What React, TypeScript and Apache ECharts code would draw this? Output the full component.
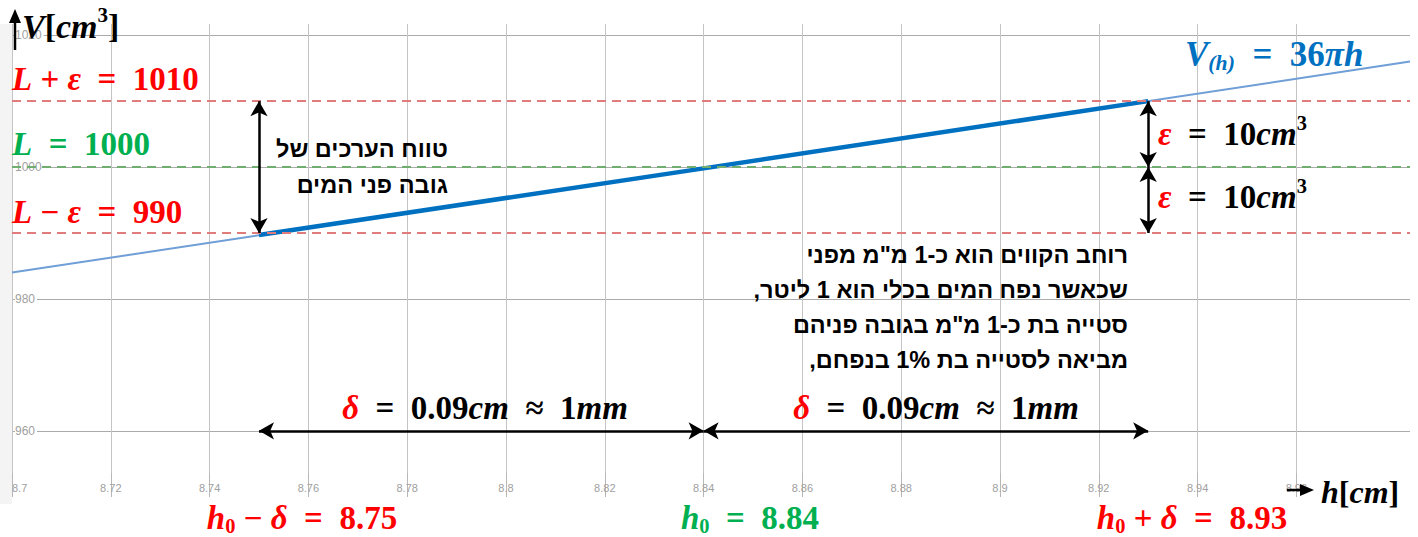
import React, { useEffect, useRef } from "react";
import * as echarts from "echarts";

// ---- data ----
const xTicks = [8.7, 8.72, 8.74, 8.76, 8.78, 8.8, 8.82, 8.84, 8.86, 8.88, 8.9, 8.92, 8.94, 8.96];
const yTicks = [960, 980, 1000, 1020];
const hFull = [8.7, 8.983];
const vFull = [984.0, 1016.0];
const hSeg = [8.75, 8.84, 8.93];
const vSeg = [989.7, 999.8, 1010.0];
const hLevels = [8.75, 8.84, 8.93]; // h0 - delta, h0, h0 + delta
const vLevels = [990, 1000, 1010]; // L - eps, L, L + eps
const arrowV = 960; // level of the horizontal delta arrows

const X_MIN = 8.7, X_MAX = 8.983, Y_MIN = 953.6, Y_MAX = 1021.7, Y_LOW = 949.9;

const RED = "#ff0000", GREEN = "#00b050", BLUE = "#0070c0";
const DASH_RED = "#e07c7c", DASH_GREEN = "#6fae6f";
const serif = '"Liberation Serif", "DejaVu Serif", serif';
const sans = '"Liberation Sans", "DejaVu Sans", Arial, sans-serif';
const EQ = "\u2002=\u2002";

function styles(size: number, color: string, lhMul: number) {
  const lh = size * lhMul;
  const small = size * 0.62;
  const slh = size * 0.5;
  return {
    i: { fontFamily: serif, fontWeight: "bold", fontStyle: "italic", fontSize: size, fill: color, lineHeight: lh },
    n: { fontFamily: serif, fontWeight: "bold", fontSize: size, fill: color, lineHeight: lh },
    sup: { fontFamily: serif, fontWeight: "bold", fontSize: small, fill: color, verticalAlign: "top", lineHeight: slh },
    sub: { fontFamily: serif, fontWeight: "bold", fontSize: small, fill: color, verticalAlign: "bottom", lineHeight: slh },
    subi: { fontFamily: serif, fontWeight: "bold", fontStyle: "italic", fontSize: small, fill: color, verticalAlign: "bottom", lineHeight: slh },
    r: { fontFamily: serif, fontWeight: "bold", fontStyle: "italic", fontSize: size, fill: RED, lineHeight: lh },
  };
}

function mtext(x: number, y: number, text: string, size: number, color: string, align = "left", lhMul = 1.0) {
  return {
    type: "text",
    x,
    y,
    z: 100,
    style: {
      text,
      rich: styles(size, color, lhMul),
      align,
      verticalAlign: "middle",
      fill: color,
      fontFamily: serif,
      fontWeight: "bold",
      fontSize: size,
    },
  };
}

function hebrew(x: number, y: number, lines: string[], size: number, lh: number) {
  return lines.map((t, k) => ({
    type: "text",
    x,
    y: y + k * lh,
    z: 100,
    style: {
      text: "\u200F" + t + "\u200F",
      align: "right",
      verticalAlign: "middle",
      fill: "#000",
      fontFamily: sans,
      fontWeight: "bold",
      fontSize: size,
    },
  }));
}

export default function App() {
  const ref = useRef<HTMLDivElement>(null);
  useEffect(() => {
    if (!ref.current) return;
    const chart = echarts.init(ref.current, undefined, { renderer: "svg" });
    const dashRed = { color: DASH_RED, type: [9, 6], width: 2 };
    const dashGreen = { color: DASH_GREEN, type: [9, 6], width: 2 };
    const levelStyles = [dashRed, dashGreen, dashRed];
    const arrowLine = { color: "#000", type: "solid", width: 2.5 };

    const dashedData: any[] = [];
    vLevels.forEach((v, k) => dashedData.push({ yAxis: v, lineStyle: levelStyles[k] }));
    hLevels.forEach((h, k) =>
      dashedData.push([
        { coord: [h, Y_MAX], lineStyle: levelStyles[k] },
        { coord: [h, Y_LOW] },
      ])
    );

    const arrowData: any[] = [
      [{ coord: [hLevels[0], vLevels[2]] }, { coord: [hLevels[0], vLevels[0]] }],
      [{ coord: [hLevels[2], vLevels[2]] }, { coord: [hLevels[2], vLevels[1]] }],
      [{ coord: [hLevels[2], vLevels[1]] }, { coord: [hLevels[2], vLevels[0]] }],
      [{ coord: [hLevels[0], arrowV] }, { coord: [hLevels[1], arrowV] }],
      [{ coord: [hLevels[1], arrowV] }, { coord: [hLevels[2], arrowV] }],
    ];

    chart.setOption({
      animation: false,
      backgroundColor: "#fff",
      grid: { left: 12, right: 8, top: 24, bottom: 64, containLabel: false },
      xAxis: {
        type: "value",
        min: X_MIN,
        max: X_MAX,
        interval: 0.02,
        axisLine: { show: false },
        axisTick: { show: true, customValues: xTicks, length: 24, lineStyle: { color: "#b8b8b8" } },
        axisLabel: {
          customValues: xTicks,
          color: "#a0a0a0",
          fontSize: 11,
          fontFamily: sans,
          margin: 9,
          alignMinLabel: "left",
          formatter: (v: number) => String(+v.toFixed(2)),
        },
        splitLine: { show: true, lineStyle: { color: "#c4c4c4", width: 1 } },
      },
      yAxis: {
        type: "value",
        min: Y_MIN,
        max: Y_MAX,
        axisLine: { show: false },
        axisTick: { show: false, customValues: yTicks },
        axisLabel: {
          customValues: yTicks,
          inside: true,
          margin: 3,
          color: "#a0a0a0",
          fontSize: 12,
          fontFamily: sans,
          backgroundColor: "#fff",
          padding: [1, 2, 1, 0],
          formatter: (v: number) => String(Math.round(v)),
        },
        splitLine: { show: true, lineStyle: { color: "#ababab", width: 1 } },
      },
      series: [
        {
          type: "line",
          data: [],
          silent: true,
          z: 2,
          markLine: {
            silent: true,
            symbol: ["none", "none"],
            label: { show: false },
            data: dashedData,
          },
        },
        {
          type: "line",
          z: 3,
          data: hFull.map((h, k) => [h, vFull[k]]),
          showSymbol: false,
          lineStyle: { color: "#6f9fd6", width: 2 },
        },
        {
          type: "line",
          z: 4,
          data: hSeg.map((h, k) => [h, vSeg[k]]),
          showSymbol: false,
          lineStyle: { color: BLUE, width: 4.5 },
        },
        {
          type: "line",
          data: [],
          z: 5,
          markLine: {
            silent: true,
            symbol: ["arrow", "arrow"],
            symbolSize: [13, 15],
            label: { show: false },
            lineStyle: arrowLine,
            itemStyle: { color: "#000" },
            data: arrowData,
          },
        },
      ],
      graphic: [
        { type: "rect", shape: { x: 0, y: 24, width: 12, height: 480 }, style: { fill: "#f4f4f4" }, z: 1 },
        // axis arrows
        { type: "line", shape: { x1: 15, y1: 50, x2: 15, y2: 20 }, style: { stroke: "#000", lineWidth: 2.5 }, z: 100 },
        { type: "polygon", shape: { points: [[15, 9], [9, 23], [21, 23]] }, style: { fill: "#000" }, z: 100 },
        { type: "line", shape: { x1: 1287, y1: 490, x2: 1302, y2: 490 }, style: { stroke: "#000", lineWidth: 2.5 }, z: 100 },
        { type: "polygon", shape: { points: [[1314, 490], [1300, 484], [1300, 496]] }, style: { fill: "#000" }, z: 100 },
        // axis titles
        mtext(22, 26, "{i|V}{n|[}{i|cm}{sup|3}{n|]}", 34, "#000", "left", 1.25),
        mtext(1321, 492, "{i|h}{n|[}{i|cm}{n|]}", 32, "#000"),
        // level labels
        mtext(12, 79, `{i|L}{n| + }{i|ε}{n|${EQ}1010}`, 33, RED),
        mtext(12, 144, `{i|L}{n|${EQ}1000}`, 33, GREEN),
        mtext(12, 212, `{i|L}{n| − }{i|ε}{n|${EQ}990}`, 33, RED),
        mtext(1185, 54, `{i|V}{subi|(h)}{i|${EQ}}{n|36}{i|πh}`, 35, BLUE, "left", 1.15),
        mtext(1158, 134, `{r|ε}{n|${EQ}10}{i|cm}{sup|3}`, 33, "#000", "left", 1.25),
        mtext(1158, 197, `{r|ε}{n|${EQ}10}{i|cm}{sup|3}`, 33, "#000", "left", 1.25),
        mtext(485, 408, `{r|δ}{n|${EQ}0.09}{i|cm}{n|\u2002≈\u20021}{i|mm}`, 33, "#000", "center"),
        mtext(936, 408, `{r|δ}{n|${EQ}0.09}{i|cm}{n|\u2002≈\u20021}{i|mm}`, 33, "#000", "center"),
        mtext(302, 518, `{i|h}{sub|0}{n| − }{i|δ}{n|${EQ}8.75}`, 33, RED, "center", 1.1),
        mtext(750, 518, `{i|h}{sub|0}{n|${EQ}8.84}`, 33, GREEN, "center", 1.1),
        mtext(1192, 518, `{i|h}{sub|0}{n| + }{i|δ}{n|${EQ}8.93}`, 33, RED, "center", 1.1),
        ...hebrew(448, 149, ["טווח הערכים של", "גובה פני המים"], 23.5, 36),
        ...hebrew(1128, 255, [
          "רוחב הקווים הוא כ-1 מ\"מ מפני",
          "שכאשר נפח המים בכלי הוא 1 ליטר,",
          "סטייה בת כ-1 מ\"מ בגובה פניהם",
          "מביאה לסטייה בת 1% בנפחם,",
        ], 23.5, 35),
      ],
    });
    return () => chart.dispose();
  }, []);
  return (
    <div
      ref={ref}
      style={{ position: "fixed", left: 0, top: 0, width: 1418, height: 537, background: "#fff" }}
    />
  );
}
